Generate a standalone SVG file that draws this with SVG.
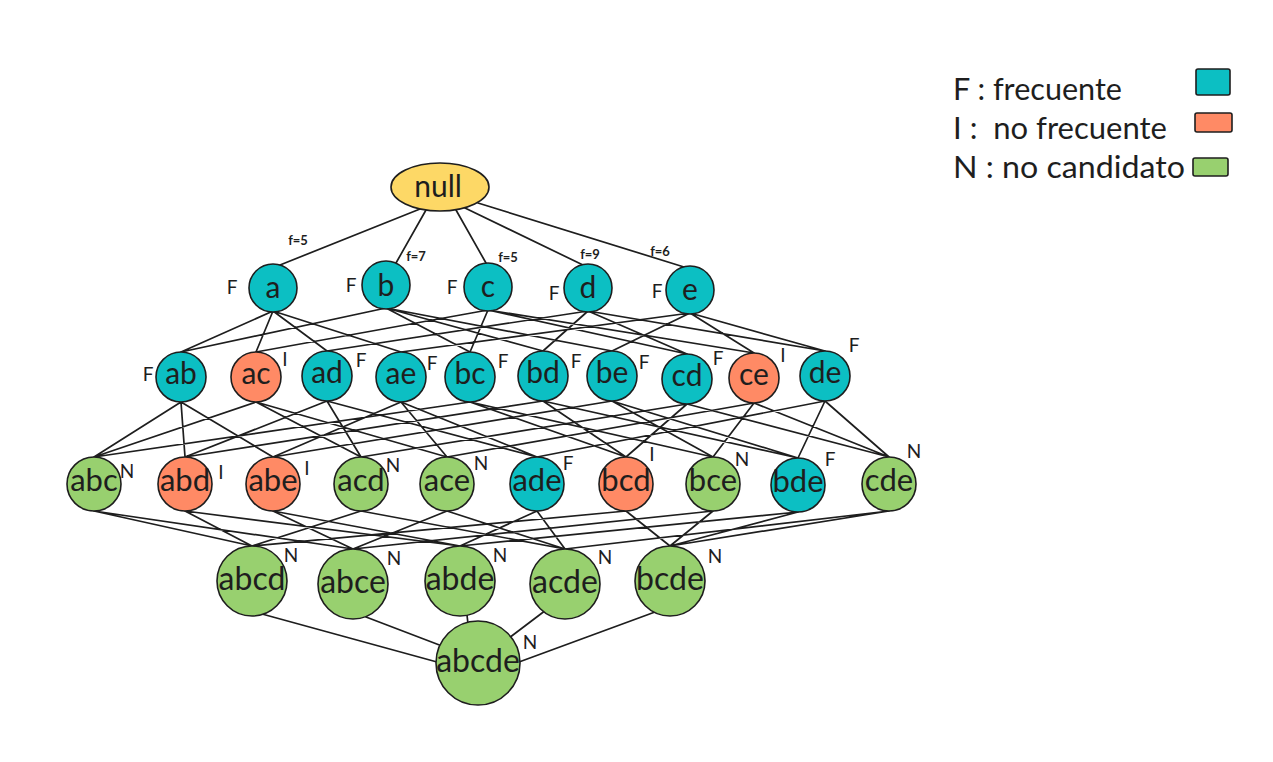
<svg xmlns="http://www.w3.org/2000/svg" width="1273" height="762" viewBox="0 0 1273 762">
<style>
.edge{stroke:#1e1e1e;stroke-width:1.7;fill:none;stroke-linecap:round}
.nd{stroke:#1e1e1e;stroke-width:1.6}
.F{fill:#0cbfc3}
.I{fill:#ff8a65}
.N{fill:#98d06f}
.Y{fill:#fdd866}
.lbl{font-family:Lato,"Noto Sans",sans-serif;font-size:30px;fill:#1e1e1e;text-anchor:middle}
.l3{font-size:31px}
.l4{font-size:32px}
.tag{font-family:Lato,"Noto Sans",sans-serif;font-size:19px;fill:#1e1e1e;text-anchor:middle}
.fq{font-family:Lato,"Noto Sans",sans-serif;font-size:13px;fill:#1e1e1e;text-anchor:middle;font-weight:bold}
.leg{font-family:Lato,"Noto Sans",sans-serif;font-size:30px;fill:#1e1e1e}
</style>
<rect width="1273" height="762" fill="#ffffff"/>
<g id="connectors">
<path class="edge" d="M420 209L280 265M426 210L396 263M456 210L486 263M465 208L583 265M478 203L684 267"/>
<path class="edge" d="M273 311L181 352M273 311L256 352M273 311L327 351M273 311L401 352M386 308L181 352M386 308L470 352M386 308L543 351M386 308L612 351M488 310L256 352M488 310L470 352M488 310L687 354M488 310L754 353M588 311L327 351M588 311L543 351M588 311L687 354M588 311L825 351M690 313L401 352M690 313L612 351M690 313L754 353M690 313L825 351"/>
<path class="edge" d="M181 402L94 457M181 402L185 457M181 402L273 457M256 402L94 457M256 402L361 457M256 402L447 457M327 401L185 457M327 401L361 457M327 401L537 457M401 402L273 457M401 402L447 457M401 402L537 457M470 402L94 457M470 402L626 457M470 402L713 457M543 401L185 457M543 401L626 457M543 401L798 458M612 401L273 457M612 401L713 457M612 401L798 458M687 404L361 457M687 404L626 457M687 404L889 457M754 403L447 457M754 403L713 457M754 403L889 457M825 401L537 457M825 401L798 458M825 401L889 457"/>
<path class="edge" d="M94 511L252 546M94 511L353 549M185 511L252 546M185 511L460 546M273 511L353 549M273 511L460 546M361 511L252 546M361 511L565 549M447 511L353 549M447 511L565 549M537 511L460 546M537 511L565 549M626 511L252 546M626 511L670 546M713 511L353 549M713 511L670 546M798 512L460 546M798 512L670 546M889 511L565 549M889 511L670 546"/>
<path class="edge" d="M262 614L437 662M366 617L442 646M467 615L468 624M546 610L509 638M655 612L519 662"/>
</g>
<g id="node-null"><ellipse class="nd Y" cx="440" cy="187" rx="49" ry="24"/><text class="lbl" x="438" y="197">null</text></g>
<g id="freq-labels">
<text class="fq" x="298" y="245">f=5</text>
<text class="fq" x="416" y="261">f=7</text>
<text class="fq" x="508" y="262">f=5</text>
<text class="fq" x="590" y="259">f=9</text>
<text class="fq" x="660" y="256">f=6</text>
</g>
<g id="node-a"><circle class="nd F" cx="273" cy="288" r="24"/><text class="lbl" x="273" y="298">a</text><text class="tag" x="232" y="294">F</text></g>
<g id="node-b"><circle class="nd F" cx="386" cy="285" r="24"/><text class="lbl" x="386" y="296">b</text><text class="tag" x="351" y="292">F</text></g>
<g id="node-c"><circle class="nd F" cx="488" cy="287" r="24"/><text class="lbl" x="488" y="297">c</text><text class="tag" x="452" y="294">F</text></g>
<g id="node-d"><circle class="nd F" cx="588" cy="288" r="24"/><text class="lbl" x="588" y="298">d</text><text class="tag" x="554" y="300">F</text></g>
<g id="node-e"><circle class="nd F" cx="690" cy="290" r="24"/><text class="lbl" x="690" y="300">e</text><text class="tag" x="657" y="298">F</text></g>

<g id="node-ab"><circle class="nd F" cx="181" cy="377" r="25"/><text class="lbl" x="181" y="384">ab</text><text class="tag" x="148" y="381">F</text></g>
<g id="node-ac"><circle class="nd I" cx="256" cy="377" r="25"/><text class="lbl" x="256" y="384">ac</text><text class="tag" x="285" y="366">I</text></g>
<g id="node-ad"><circle class="nd F" cx="327" cy="376" r="25"/><text class="lbl" x="327" y="383">ad</text><text class="tag" x="361" y="367">F</text></g>
<g id="node-ae"><circle class="nd F" cx="401" cy="377" r="25"/><text class="lbl" x="401" y="384">ae</text><text class="tag" x="432" y="370">F</text></g>
<g id="node-bc"><circle class="nd F" cx="470" cy="377" r="25"/><text class="lbl" x="470" y="384">bc</text><text class="tag" x="503" y="368">F</text></g>
<g id="node-bd"><circle class="nd F" cx="543" cy="376" r="25"/><text class="lbl" x="543" y="383">bd</text><text class="tag" x="576" y="368">F</text></g>
<g id="node-be"><circle class="nd F" cx="612" cy="376" r="25"/><text class="lbl" x="612" y="383">be</text><text class="tag" x="644" y="369">F</text></g>
<g id="node-cd"><circle class="nd F" cx="687" cy="379" r="25"/><text class="lbl" x="687" y="386">cd</text><text class="tag" x="718" y="365">F</text></g>
<g id="node-ce"><circle class="nd I" cx="754" cy="378" r="25"/><text class="lbl" x="754" y="385">ce</text><text class="tag" x="783" y="362">I</text></g>
<g id="node-de"><circle class="nd F" cx="825" cy="376" r="25"/><text class="lbl" x="825" y="383">de</text><text class="tag" x="854" y="352">F</text></g>

<g id="node-abc"><circle class="nd N" cx="94" cy="484" r="27"/><text class="lbl l3" x="94" y="491">abc</text><text class="tag" x="127" y="478">N</text></g>
<g id="node-abd"><circle class="nd I" cx="185" cy="484" r="27"/><text class="lbl l3" x="185" y="491">abd</text><text class="tag" x="221" y="479">I</text></g>
<g id="node-abe"><circle class="nd I" cx="273" cy="484" r="27"/><text class="lbl l3" x="273" y="491">abe</text><text class="tag" x="307" y="475">I</text></g>
<g id="node-acd"><circle class="nd N" cx="361" cy="484" r="27"/><text class="lbl l3" x="361" y="491">acd</text><text class="tag" x="393" y="472">N</text></g>
<g id="node-ace"><circle class="nd N" cx="447" cy="484" r="27"/><text class="lbl l3" x="447" y="491">ace</text><text class="tag" x="481" y="470">N</text></g>
<g id="node-ade"><circle class="nd F" cx="537" cy="484" r="27"/><text class="lbl l3" x="537" y="491">ade</text><text class="tag" x="568" y="470">F</text></g>
<g id="node-bcd"><circle class="nd I" cx="626" cy="484" r="27"/><text class="lbl l3" x="626" y="491">bcd</text><text class="tag" x="652" y="461">I</text></g>
<g id="node-bce"><circle class="nd N" cx="713" cy="484" r="27"/><text class="lbl l3" x="713" y="491">bce</text><text class="tag" x="742" y="466">N</text></g>
<g id="node-bde"><circle class="nd F" cx="798" cy="485" r="27"/><text class="lbl l3" x="798" y="492">bde</text><text class="tag" x="830" y="466">F</text></g>
<g id="node-cde"><circle class="nd N" cx="889" cy="484" r="27"/><text class="lbl l3" x="889" y="491">cde</text><text class="tag" x="914" y="458">N</text></g>

<g id="node-abcd"><circle class="nd N" cx="252" cy="581" r="35"/><text class="lbl l4" x="252" y="590">abcd</text><text class="tag" x="291" y="562">N</text></g>
<g id="node-abce"><circle class="nd N" cx="353" cy="584" r="35"/><text class="lbl l4" x="353" y="593">abce</text><text class="tag" x="394" y="565">N</text></g>
<g id="node-abde"><circle class="nd N" cx="460" cy="581" r="35"/><text class="lbl l4" x="460" y="590">abde</text><text class="tag" x="500" y="562">N</text></g>
<g id="node-acde"><circle class="nd N" cx="565" cy="584" r="35"/><text class="lbl l4" x="565" y="593">acde</text><text class="tag" x="605" y="564">N</text></g>
<g id="node-bcde"><circle class="nd N" cx="670" cy="581" r="35"/><text class="lbl l4" x="670" y="590">bcde</text><text class="tag" x="715" y="563">N</text></g>
<g id="node-abcde"><circle class="nd N" cx="478" cy="663" r="42"/><text class="lbl l4" x="478" y="672">abcde</text><text class="tag" x="530" y="649">N</text></g>

<g id="legend">
<text class="leg" x="953" y="100" textLength="169" lengthAdjust="spacingAndGlyphs">F : frecuente</text>
<text class="leg" x="953" y="139" textLength="214" lengthAdjust="spacingAndGlyphs" xml:space="preserve">I :  no frecuente</text>
<text class="leg" x="953" y="178" textLength="232" lengthAdjust="spacingAndGlyphs">N : no candidato</text>
<rect class="nd F" x="1196" y="69" width="34" height="26" rx="2"/>
<rect class="nd I" x="1195" y="113" width="37" height="19" rx="2"/>
<rect class="nd N" x="1193" y="158" width="35" height="18" rx="2"/>
</g>
</svg>
